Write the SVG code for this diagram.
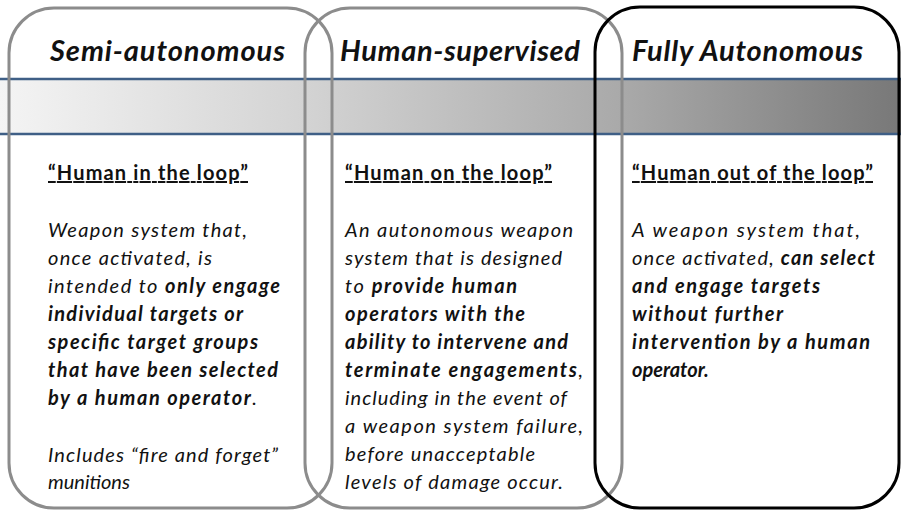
<svg xmlns="http://www.w3.org/2000/svg" width="901" height="512" viewBox="0 0 901 512">
<style>
.box{fill:none;stroke:#8c8c8c;stroke-width:3}
.box3{fill:none;stroke:#000;stroke-width:3}
.hdr{font-family:Lato,"Liberation Sans",sans-serif;font-size:29px;font-weight:bold;font-style:italic;fill:#111}
.sub{font-family:Lato,"Liberation Sans",sans-serif;font-size:20px;font-weight:bold;fill:#111;text-decoration:underline}
.body{font-family:Lato,"Liberation Sans",sans-serif;font-size:20px;font-style:italic;fill:#111}
.b{font-weight:bold}
.bl{stroke:#3f5f86;stroke-width:2.5}
</style>
<defs>
<linearGradient id="band" x1="0" y1="0" x2="1" y2="0">
<stop offset="0" stop-color="#f4f4f4"/>
<stop offset="0.35" stop-color="#d2d2d2"/>
<stop offset="0.7" stop-color="#a8a8a8"/>
<stop offset="1" stop-color="#787878"/>
</linearGradient>
</defs>
<rect width="901" height="512" fill="#fff"/>
<g id="band-strip">
<rect x="0" y="79" width="901" height="55" fill="url(#band)"/>
<line class="bl" x1="0" y1="79" x2="901" y2="79"/>
<line class="bl" x1="0" y1="134" x2="901" y2="134"/>
</g>
<g id="semi-autonomous">
<rect class="box" x="9" y="8" width="323" height="500" rx="45" ry="45"/>
<text class="hdr" x="50" y="61" textLength="235" lengthAdjust="spacing">Semi-autonomous</text>
<text class="sub" x="48" y="180" textLength="200" lengthAdjust="spacing">“Human in the loop”</text>
<text class="body" x="48" y="237" textLength="199" lengthAdjust="spacing">Weapon system that,</text>
<text class="body" x="48" y="265" textLength="164" lengthAdjust="spacing">once activated, is</text>
<text class="body" x="48" y="293" textLength="232" lengthAdjust="spacing">intended to <tspan class="b">only engage</tspan></text>
<text class="body b" x="48" y="321" textLength="195" lengthAdjust="spacing">individual targets or</text>
<text class="body b" x="48" y="349" textLength="210" lengthAdjust="spacing">specific target groups</text>
<text class="body b" x="48" y="377" textLength="230" lengthAdjust="spacing">that have been selected</text>
<text class="body" x="48" y="405" textLength="209" lengthAdjust="spacing"><tspan class="b">by a human operator</tspan>.</text>
<text class="body" x="48" y="462" textLength="230" lengthAdjust="spacing">Includes “fire and forget”</text>
<text class="body" x="48" y="489">munitions</text>
</g>
<g id="human-supervised">
<rect class="box" x="305" y="8" width="317" height="500" rx="45" ry="45"/>
<text class="hdr" x="340" y="61" textLength="240" lengthAdjust="spacing">Human-supervised</text>
<text class="sub" x="345" y="180" textLength="207" lengthAdjust="spacing">“Human on the loop”</text>
<text class="body" x="345" y="237" textLength="228" lengthAdjust="spacing">An autonomous weapon</text>
<text class="body" x="345" y="265" textLength="217" lengthAdjust="spacing">system that is designed</text>
<text class="body" x="345" y="293" textLength="172" lengthAdjust="spacing">to <tspan class="b">provide human</tspan></text>
<text class="body b" x="345" y="321" textLength="180" lengthAdjust="spacing">operators with the</text>
<text class="body b" x="345" y="349" textLength="223" lengthAdjust="spacing">ability to intervene and</text>
<text class="body" x="345" y="377" textLength="238" lengthAdjust="spacing"><tspan class="b">terminate engagements</tspan>,</text>
<text class="body" x="345" y="405" textLength="222" lengthAdjust="spacing">including in the event of</text>
<text class="body" x="345" y="433" textLength="238" lengthAdjust="spacing">a weapon system failure,</text>
<text class="body" x="345" y="461" textLength="190" lengthAdjust="spacing">before unacceptable</text>
<text class="body" x="345" y="489" textLength="218" lengthAdjust="spacing">levels of damage occur.</text>
</g>
<g id="fully-autonomous">
<rect class="box3" x="595" y="7" width="304" height="501" rx="45" ry="45"/>
<text class="hdr" x="632" y="61" textLength="231" lengthAdjust="spacing">Fully Autonomous</text>
<text class="sub" x="632" y="180" textLength="241" lengthAdjust="spacing">“Human out of the loop”</text>
<text class="body" x="632" y="237" textLength="228" lengthAdjust="spacing">A weapon system that,</text>
<text class="body" x="632" y="265" textLength="243" lengthAdjust="spacing">once activated, <tspan class="b">can select</tspan></text>
<text class="body b" x="632" y="293" textLength="188" lengthAdjust="spacing">and engage targets</text>
<text class="body b" x="632" y="321" textLength="151" lengthAdjust="spacing">without further</text>
<text class="body b" x="632" y="349" textLength="238" lengthAdjust="spacing">intervention by a human</text>
<text class="body b" x="632" y="377">operator.</text>
</g>
<g id="connectors"/>
</svg>
